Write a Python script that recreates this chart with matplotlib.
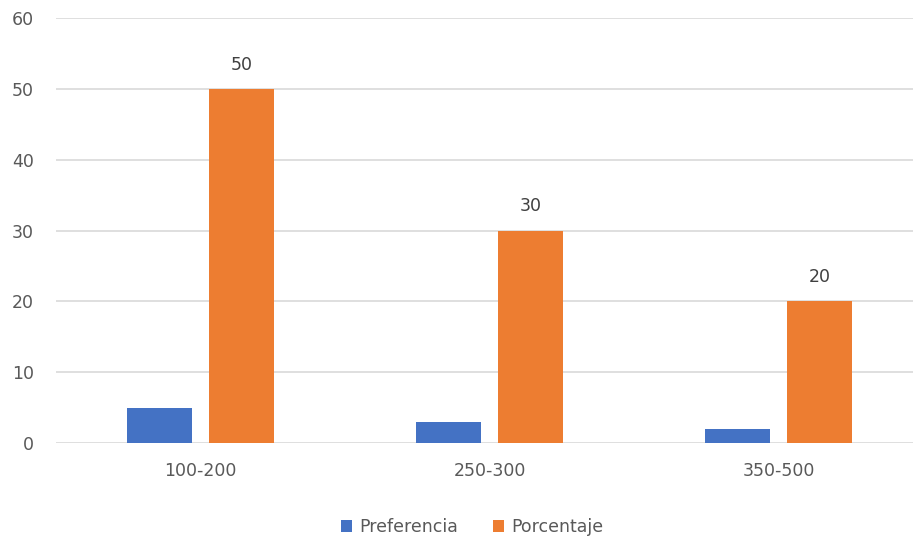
import matplotlib
matplotlib.use("Agg")
import matplotlib.pyplot as plt
import numpy as np

categories = ["100-200", "250-300", "350-500"]
preferencia = [5, 3, 2]
porcentaje = [50, 30, 20]
y_ticks = [0, 10, 20, 30, 40, 50, 60]

BLUE = "#4472C4"
ORANGE = "#ED7D31"
TEXT = "#595959"
GRID = "#D9D9D9"

plt.rcParams["font.family"] = ["DejaVu Sans"]

W, H = 913, 541
fig = plt.figure(figsize=(W / 100, H / 100), dpi=100)
left, right, top, bottom = 56, 913, 18, 443
ax = fig.add_axes([left / W, (H - bottom) / H, (right - left) / W, (bottom - top) / H])

x = np.arange(len(categories))
width = 0.225
offset = 0.143
b1 = ax.bar(x - offset, preferencia, width, color=BLUE, label="Preferencia", zorder=3)
b2 = ax.bar(x + offset, porcentaje, width, color=ORANGE, label="Porcentaje", zorder=3)

for rect, v in zip(b2, porcentaje):
    ax.annotate(f"{v}", (rect.get_x() + rect.get_width() / 2, v),
                xytext=(0, 11), textcoords="offset points",
                ha="center", va="bottom", fontsize=12.5, color="#404040")

ax.set_xlim(-0.5, 2.5 - 10 / 289)
ax.set_ylim(0, 60)
ax.set_yticks(y_ticks)
ax.set_xticks(x)
ax.set_xticklabels(categories)
ax.tick_params(axis="both", length=0, labelsize=12.5, labelcolor=TEXT)
ax.tick_params(axis="y", pad=16)
ax.tick_params(axis="x", pad=14)
ax.grid(axis="y", color=GRID, linewidth=1.2, zorder=0)
for s in ax.spines.values():
    s.set_visible(False)

fig.legend(handles=[b1, b2], labels=["Preferencia", "Porcentaje"],
           loc="center", bbox_to_anchor=(472 / W, 1 - 527 / H), ncol=2,
           frameon=False, fontsize=12.5, labelcolor=TEXT,
           handlelength=0.65, handleheight=0.65, handletextpad=0.4,
           columnspacing=2.0)

fig.savefig("out.png", dpi=100)
